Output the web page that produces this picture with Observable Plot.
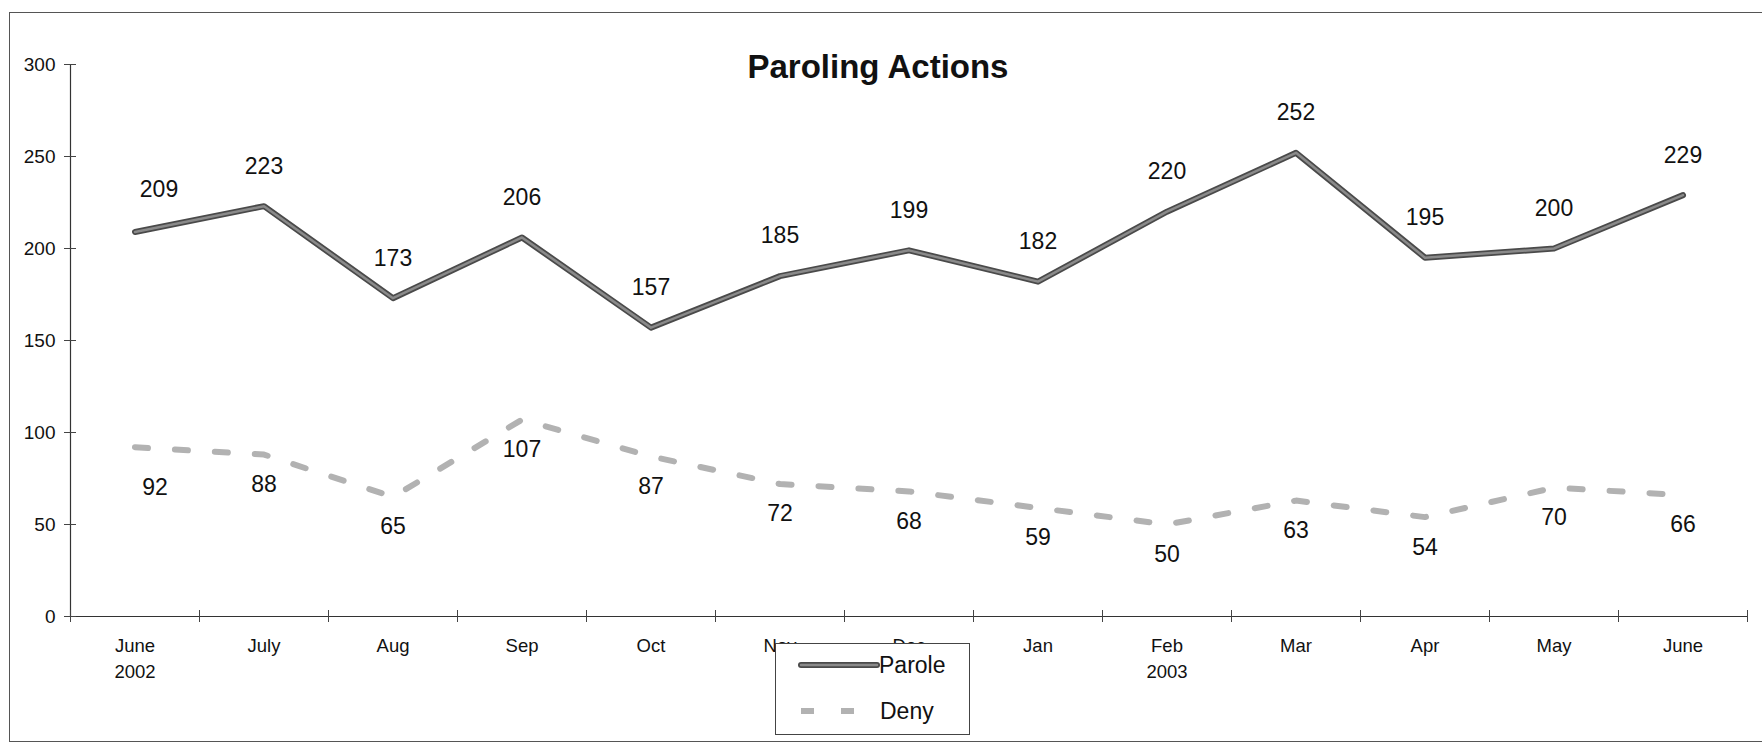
<!DOCTYPE html>
<html>
<head>
<meta charset="utf-8">
<script src="https://cdn.jsdelivr.net/npm/d3@7"></script>
<script src="https://cdn.jsdelivr.net/npm/@observablehq/plot@0.6"></script>
<style>
  html, body { margin: 0; padding: 0; background: #fff; }
  #wrap { position: relative; width: 1762px; height: 744px; overflow: hidden; font-family: "Liberation Sans", Arial, sans-serif; }
  #frame { position: absolute; left: 9px; top: 12px; width: 1800px; height: 730px; border: 1.5px solid #555; box-sizing: border-box; }
  #title { position: absolute; left: 0; width: 1762px; top: 48px; text-align: center; font-weight: bold; font-size: 33px; color: #111; }
  #title span { position: relative; left: -3px; }
  #legend { position: absolute; left: 775px; top: 643px; width: 195px; height: 92px; border: 1.5px solid #444; background: #fff; box-sizing: border-box; }
  #legend .row { position: absolute; left: 0; height: 30px; display: flex; align-items: center; font-size: 23px; color: #111; }
  #chart { position: absolute; left: 0; top: 0; }
</style>
</head>
<body>
<div id="wrap">
  <div id="frame"></div>
  <div id="chart"></div>
  <div id="title"><span>Paroling Actions</span></div>
  <div id="legend"></div>
</div>
<script>
const months = ["June\n2002", "July", "Aug", "Sep", "Oct", "Nov", "Dec", "Jan", "Feb\n2003", "Mar", "Apr", "May", "June"];
const parole = [209, 223, 173, 206, 157, 185, 199, 182, 220, 252, 195, 200, 229];
const deny = [92, 88, 65, 107, 87, 72, 68, 59, 50, 63, 54, 70, 66];
const yTicks = [0, 50, 100, 150, 200, 250, 300];
const seriesNames = ["Parole", "Deny"];

const idx = months.map((_, i) => i);
const bounds = d3.range(-0.5, months.length, 1);
const paroleData = parole.map((v, i) => ({i, v}));
const denyData = deny.map((v, i) => ({i, v}));

const paroleColor = "#8a8a8a";
const paroleEdge = "#4a4a4a";
const denyColor = "#b2b2b2";

const chart = Plot.plot({
  width: 1762,
  height: 744,
  marginLeft: 70,
  marginRight: 15,
  marginTop: 64,
  marginBottom: 128,
  style: {fontFamily: "'Liberation Sans', Arial, sans-serif", background: "transparent"},
  x: {domain: [-0.5, months.length - 0.5], axis: null},
  y: {domain: [0, 300], axis: null},
  marks: [
    // axis lines
    Plot.ruleY([0], {stroke: "#333", strokeWidth: 1.2}),
    Plot.ruleX([-0.5], {y1: 0, y2: 300, stroke: "#333", strokeWidth: 1.2}),
    // x ticks at category boundaries (crossing the axis)
    Plot.ruleX(bounds, {y1: 0, y2: 0, insetTop: -6, insetBottom: -6, stroke: "#444", strokeWidth: 1}),
    // y ticks crossing the axis
    Plot.ruleY(yTicks, {x1: -0.5, x2: -0.5, insetLeft: -6, insetRight: -6, stroke: "#444", strokeWidth: 1}),
    // y tick labels
    Plot.text(yTicks, {x: -0.5, y: d => d, text: d => String(d), dx: -15, textAnchor: "end", fontSize: 19, fill: "#111"}),
    // x tick labels
    Plot.text(idx, {x: d => d, y: 0, text: d => months[d], dy: 17, lineAnchor: "top", fontSize: 18.5, fill: "#111", lineHeight: 1.4}),
    // Deny dashed line
    Plot.line(denyData, {x: "i", y: "v", stroke: denyColor, strokeWidth: 6, strokeDasharray: "13,27", strokeLinejoin: "miter"}),
    // Parole line
    Plot.line(paroleData, {x: "i", y: "v", stroke: paroleEdge, strokeWidth: 6, strokeLinejoin: "round", strokeLinecap: "round"}),
    Plot.line(paroleData, {x: "i", y: "v", stroke: paroleColor, strokeWidth: 2.5, strokeLinejoin: "round", strokeLinecap: "round"}),
    // labels
    Plot.text(paroleData.filter(d => d.i > 0), {x: "i", y: "v", text: d => String(d.v), dy: -40, fontSize: 23, fill: "#111"}),
    Plot.text(paroleData.filter(d => d.i === 0), {x: "i", y: "v", text: d => String(d.v), dx: 24, dy: -42, fontSize: 23, fill: "#111"}),
    Plot.text(denyData.filter(d => d.i > 0), {x: "i", y: "v", text: d => String(d.v), dy: 30, fontSize: 23, fill: "#111"}),
    Plot.text(denyData.filter(d => d.i === 0), {x: "i", y: "v", text: d => String(d.v), dx: 20, dy: 40, fontSize: 23, fill: "#111"})
  ]
});
document.getElementById("chart").appendChild(chart);

// legend
const legend = document.getElementById("legend");
const styles = {
  Parole: `<line x1="4" y1="10" x2="80" y2="10" stroke="${paroleEdge}" stroke-width="6" stroke-linecap="round"/><line x1="4" y1="10" x2="80" y2="10" stroke="${paroleColor}" stroke-width="2.5" stroke-linecap="round"/>`,
  Deny: `<line x1="4" y1="10" x2="80" y2="10" stroke="${denyColor}" stroke-width="6" stroke-dasharray="13,27"/>`
};
seriesNames.forEach((name, k) => {
  const row = document.createElement("div");
  row.className = "row";
  row.style.top = (k === 0 ? 6 : 52) + "px";
  row.innerHTML = `<svg width="104" height="20" style="margin-left:21px"><g>${styles[name]}</g></svg><span style="margin-left:${name === "Parole" ? -22 : -21}px">${name}</span>`;
  legend.appendChild(row);
});
</script>
</body>
</html>
